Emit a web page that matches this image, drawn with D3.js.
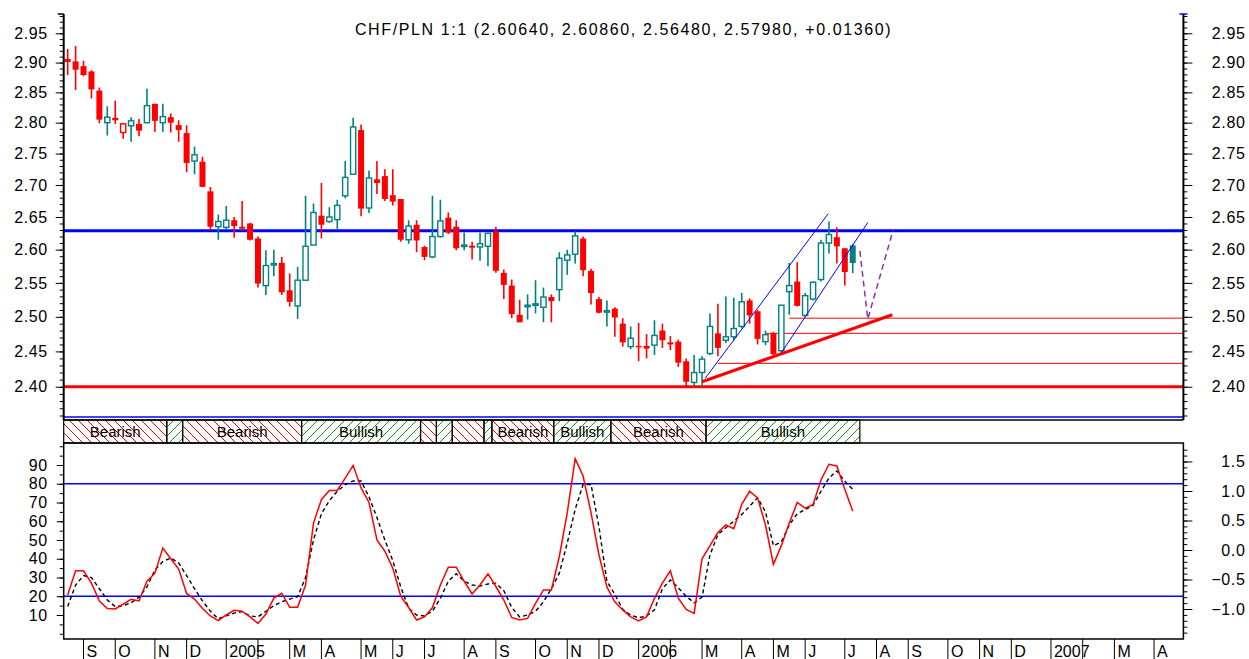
<!DOCTYPE html>
<html>
<head>
<meta charset="utf-8">
<script src="https://cdn.jsdelivr.net/npm/d3@7"></script>
<style>
body { margin: 0; background: #fff; }
svg { display: block; font-family: "Liberation Sans", Arial, sans-serif; }
</style>
</head>
<body>
<div id="chartContainer"></div>
<script>
// Weekly bars, first bar = week of Fri 20 Aug 2004
const startDate = new Date(2004, 7, 20);
const barCount = 141; // bars + empty future weeks on the axis

const opens = [2.906, 2.902, 2.894, 2.885, 2.853, 2.800, 2.808, 2.784, 2.795, 2.798,
  2.800, 2.831, 2.800, 2.809, 2.796, 2.783, 2.738, 2.737, 2.690, 2.635,
  2.634, 2.645, 2.635, 2.640, 2.617, 2.546, 2.577, 2.580, 2.539, 2.516,
  2.554, 2.607, 2.652, 2.643, 2.646, 2.683, 2.717, 2.788, 2.664, 2.709,
  2.714, 2.684, 2.678, 2.615, 2.638, 2.604, 2.589, 2.620, 2.649, 2.635,
  2.605, 2.606, 2.604, 2.605, 2.628, 2.565, 2.546, 2.503, 2.515, 2.517,
  2.514, 2.529, 2.540, 2.584, 2.593, 2.617, 2.568, 2.526, 2.508, 2.512,
  2.490, 2.457, 2.458, 2.458, 2.459, 2.480, 2.463, 2.464, 2.436, 2.406,
  2.420, 2.447, 2.476, 2.466, 2.471, 2.486, 2.524, 2.508, 2.464, 2.476,
  2.451, 2.537, 2.552, 2.502, 2.526, 2.555, 2.610, 2.619, 2.602, 2.6064];
const highs = [2.923, 2.928, 2.903, 2.887, 2.858, 2.827, 2.836, 2.800, 2.809, 2.806,
  2.856, 2.831, 2.831, 2.815, 2.804, 2.796, 2.761, 2.745, 2.697, 2.654,
  2.667, 2.650, 2.675, 2.641, 2.620, 2.599, 2.600, 2.589, 2.564, 2.574,
  2.683, 2.671, 2.703, 2.665, 2.677, 2.738, 2.808, 2.797, 2.723, 2.738,
  2.725, 2.725, 2.678, 2.645, 2.645, 2.606, 2.683, 2.677, 2.657, 2.645,
  2.626, 2.612, 2.626, 2.625, 2.635, 2.570, 2.555, 2.525, 2.533, 2.554,
  2.543, 2.533, 2.596, 2.600, 2.628, 2.620, 2.571, 2.529, 2.524, 2.514,
  2.498, 2.486, 2.491, 2.475, 2.495, 2.490, 2.472, 2.467, 2.440, 2.445,
  2.443, 2.505, 2.519, 2.530, 2.528, 2.535, 2.527, 2.510, 2.480, 2.478,
  2.517, 2.580, 2.581, 2.535, 2.552, 2.615, 2.643, 2.634, 2.602, 2.6086];
const lows = [2.879, 2.854, 2.877, 2.840, 2.799, 2.779, 2.798, 2.774, 2.769, 2.778,
  2.800, 2.785, 2.785, 2.784, 2.769, 2.720, 2.717, 2.697, 2.630, 2.615,
  2.630, 2.618, 2.629, 2.614, 2.543, 2.532, 2.560, 2.532, 2.515, 2.497,
  2.554, 2.607, 2.617, 2.641, 2.630, 2.679, 2.717, 2.651, 2.656, 2.686,
  2.675, 2.668, 2.612, 2.609, 2.596, 2.584, 2.587, 2.618, 2.624, 2.599,
  2.599, 2.585, 2.583, 2.575, 2.565, 2.526, 2.498, 2.492, 2.496, 2.505,
  2.492, 2.492, 2.523, 2.562, 2.579, 2.560, 2.518, 2.505, 2.486, 2.471,
  2.457, 2.453, 2.436, 2.440, 2.445, 2.455, 2.452, 2.428, 2.400, 2.401,
  2.400, 2.445, 2.443, 2.462, 2.466, 2.483, 2.490, 2.460, 2.459, 2.444,
  2.448, 2.503, 2.515, 2.500, 2.524, 2.552, 2.594, 2.579, 2.546, 2.5648];
const closes = [2.901, 2.888, 2.879, 2.855, 2.805, 2.809, 2.804, 2.798, 2.803, 2.787,
  2.828, 2.803, 2.810, 2.800, 2.788, 2.735, 2.748, 2.697, 2.635, 2.643,
  2.645, 2.636, 2.632, 2.615, 2.549, 2.576, 2.579, 2.536, 2.522, 2.554,
  2.605, 2.657, 2.638, 2.650, 2.668, 2.712, 2.793, 2.663, 2.711, 2.703,
  2.678, 2.674, 2.615, 2.636, 2.614, 2.589, 2.620, 2.644, 2.626, 2.602,
  2.607, 2.603, 2.609, 2.625, 2.568, 2.547, 2.504, 2.492, 2.517, 2.519,
  2.529, 2.523, 2.587, 2.592, 2.621, 2.569, 2.535, 2.506, 2.509, 2.499,
  2.463, 2.469, 2.456, 2.454, 2.473, 2.466, 2.460, 2.434, 2.407, 2.420,
  2.439, 2.486, 2.455, 2.471, 2.483, 2.522, 2.502, 2.468, 2.474, 2.446,
  2.517, 2.546, 2.516, 2.531, 2.551, 2.610, 2.623, 2.605, 2.5662, 2.5798];

// Stochastic oscillator (%K solid, %D dashed)
const stochK = [20.7, 33.6, 33.6, 27, 17.5, 13.5, 13.2, 15.8, 18.4, 17.5,
  28, 32.3, 45.7, 40, 34.5, 21.5, 18.5, 13.5, 9.5, 7,
  10, 12.5, 12, 9, 5.5, 10.5, 19, 21.6, 14.1, 14.1,
  26, 59, 71.6, 76.4, 76.4, 83, 89.8, 77.8, 70, 50,
  44, 35, 20, 14, 7.3, 9, 14, 26, 35.5, 35.5,
  28, 21.2, 26, 32, 25.2, 18, 8.7, 7.3, 8.2, 16.2,
  23.4, 23.4, 41.2, 64.5, 93.4, 84.1, 64.5, 42, 25, 17,
  12.7, 9, 6.8, 9, 18.9, 27, 33.6, 19, 13, 10.9,
  40, 47, 54, 58, 56, 69, 76, 72.5, 58, 37,
  47, 59, 70, 67, 69, 82, 90.4, 89.5, 77, 65.4];
const stochD = [14.5, 26, 31, 30, 24, 18, 14.5, 15, 16.5, 19.5,
  25, 34, 38.5, 40.4, 37.7, 31, 24, 17.5, 12, 8,
  9.5, 11, 11.8, 9.5, 9, 12, 15, 17.1, 18.5, 19.8,
  30, 50, 64, 71, 76, 79.5, 81.5, 81.5, 73, 62,
  50, 39, 25, 13.6, 10, 9.5, 12, 18.9, 28, 32,
  28, 26, 25.5, 26.5, 27, 23, 14, 9, 10, 12,
  17, 24, 32.3, 48.4, 66.4, 79.6, 79.6, 57, 28, 21,
  13, 10, 8.5, 9.5, 12.7, 24, 28.7, 24.5, 20, 16.5,
  19.5, 42, 53, 56.5, 60, 63.6, 68, 72.5, 65, 47,
  49, 58, 64, 66.2, 68.5, 76, 83, 86.8, 81.4, 77];

// Axis tick labels (February is left unlabelled, the year label sits there)
const priceTicks = [2.40, 2.45, 2.50, 2.55, 2.60, 2.65, 2.70, 2.75, 2.80, 2.85, 2.90, 2.95];
const stochTicks = [10, 20, 30, 40, 50, 60, 70, 80, 90];
const rightTicks = [-1.0, -0.5, 0.0, 0.5, 1.0, 1.5];
const monthInitials = ["", "", "M", "A", "M", "J", "J", "A", "S", "O", "N", "D"];
const stochLevels = [20, 80];

// Drawn studies: [bar index, price]
const resistance = 2.629;
const support = 2.40;
const supportStarts = [82, 88, 91];
const supportPrices = [2.433, 2.476, 2.498];
const trendLine = [[80, 2.407], [104, 2.503]];
const channelUpper = [[80.4, 2.412], [95.9, 2.655]];
const channelLower = [[90.0, 2.448], [100.9, 2.6415]];
const projection = [[99.9, 2.598], [100.9, 2.4967], [104.1, 2.630]];

// Trend band
const bandEdges = [-0.5, 12.5, 14.5, 29.5, 44.5, 46.5, 48.5, 52.5, 53.5, 61.3, 68.5, 80.5, 99.9];
const bandTypes = ["Bearish", "Bullish", "Bearish", "Bullish", "Bearish", "Bullish",
  "Bearish", "Bullish", "Bearish", "Bullish", "Bearish", "Bullish"];

const TEAL = "#008080", RED = "#ff0000", BLUE = "#0000ff";
const W = 1249, H = 659;
const plotLeft = 63.7, plotRight = 1183.4;
const mainTop = 14, mainBottom = 420;
const bandTop = 420, bandBottom = 443;
const lowTop = 443, lowBottom = 639;

const svg = d3.select("#chartContainer")
  .append("svg")
  .attr("width", W)
  .attr("height", H);

const x = d3.scaleLinear().domain([-0.5, 140.7]).range([plotLeft, plotRight]);
const y = d3.scaleLog().domain([2.3566, 2.9834]).range([418, 14]);
const yK = d3.scaleLinear().domain([0, 100]).range([633.75, 446.25]);
const yR = d3.scaleLinear().domain([-1.5, 1.8]).range([638.5, 443.8]);

const dates = d3.range(barCount).map(i => d3.timeDay.offset(startDate, 7 * i));

// patterns for the band
const defs = svg.append("defs");
defs.append("pattern").attr("id", "bear").attr("patternUnits", "userSpaceOnUse")
  .attr("width", 9).attr("height", 9)
  .append("path").attr("d", "M0,0 L9,9 M-1,8 L1,10 M8,-1 L10,1")
  .attr("stroke", RED).attr("stroke-width", 1);
defs.append("pattern").attr("id", "bull").attr("patternUnits", "userSpaceOnUse")
  .attr("width", 9).attr("height", 9)
  .append("path").attr("d", "M0,9 L9,0 M-1,1 L1,-1 M8,10 L10,8")
  .attr("stroke", "#1a961a").attr("stroke-width", 1);

const mainClip = defs.append("clipPath").attr("id", "mainClip");
mainClip.append("rect").attr("x", plotLeft).attr("y", mainTop)
  .attr("width", plotRight - plotLeft).attr("height", mainBottom - mainTop);

// ---------- main panel ----------
const main = svg.append("g").attr("clip-path", "url(#mainClip)");

// horizontal levels
main.append("line")
  .attr("x1", plotLeft).attr("x2", plotRight)
  .attr("y1", y(resistance)).attr("y2", y(resistance))
  .attr("stroke", BLUE).attr("stroke-width", 3);
main.append("line")
  .attr("x1", plotLeft).attr("x2", plotRight)
  .attr("y1", y(support)).attr("y2", y(support))
  .attr("stroke", RED).attr("stroke-width", 3);
main.append("line")
  .attr("x1", plotLeft).attr("x2", plotRight)
  .attr("y1", y.range()[0] - 1).attr("y2", y.range()[0] - 1)
  .attr("stroke", BLUE).attr("stroke-width", 1.5);

main.selectAll(".lvl")
  .data(supportPrices)
  .enter()
  .append("line")
  .attr("class", "lvl")
  .attr("x1", (d, i) => x(supportStarts[i]))
  .attr("x2", plotRight)
  .attr("y1", d => y(d)).attr("y2", d => y(d))
  .attr("stroke", RED).attr("stroke-width", 1);

// candles: colour by close vs previous close, hollow when close > open
const candles = main.selectAll(".candle")
  .data(d3.range(opens.length))
  .enter()
  .append("g")
  .attr("class", "candle");

const candleColor = i => (i > 0 && closes[i] >= closes[i - 1]) ? TEAL : RED;

candles.append("line")
  .attr("x1", i => x(i)).attr("x2", i => x(i))
  .attr("y1", i => y(highs[i])).attr("y2", i => y(lows[i]))
  .attr("stroke", candleColor).attr("stroke-width", 1.6);

candles.append("rect")
  .attr("x", i => closes[i] < opens[i] ? x(i) - 3 : x(i) - 2.6)
  .attr("width", i => closes[i] < opens[i] ? 6 : 5.2)
  .attr("y", i => y(Math.max(opens[i], closes[i])))
  .attr("height", i => Math.max(1.5, Math.abs(y(opens[i]) - y(closes[i]))))
  .attr("fill", i => closes[i] < opens[i] ? candleColor(i) : "#fff")
  .attr("stroke", i => closes[i] < opens[i] ? "none" : candleColor(i))
  .attr("stroke-width", 1.4);

// studies
const studyLine = d3.line().x(d => x(d[0])).y(d => y(d[1]));

main.append("path").datum(channelUpper).attr("d", studyLine)
  .attr("fill", "none").attr("stroke", BLUE).attr("stroke-width", 1);
main.append("path").datum(channelLower).attr("d", studyLine)
  .attr("fill", "none").attr("stroke", BLUE).attr("stroke-width", 1);
main.append("path").datum(trendLine).attr("d", studyLine)
  .attr("fill", "none").attr("stroke", RED).attr("stroke-width", 3);
main.append("path").datum(projection).attr("d", studyLine)
  .attr("fill", "none").attr("stroke", "#9030a8").attr("stroke-width", 1.5)
  .attr("stroke-dasharray", "6,4");

// main axes
const minorPrices = d3.range(236, 299).map(v => v / 100);

function styleAxis(g) {
  g.select(".domain").remove();
  g.selectAll("line").attr("stroke", "#000");
  g.selectAll("text").attr("fill", "#000").attr("font-size", 16)
    .attr("letter-spacing", 0.6)
    .attr("font-family", "'Liberation Sans', Arial, sans-serif");
}

svg.append("g").attr("transform", `translate(${plotLeft},0)`)
  .call(d3.axisLeft(y).tickValues(minorPrices).tickSize(4).tickFormat(""))
  .call(styleAxis);
svg.append("g").attr("transform", `translate(${plotLeft},0)`)
  .call(d3.axisLeft(y).tickValues(priceTicks).tickSize(8).tickPadding(8).tickFormat(d3.format(".2f")))
  .call(styleAxis);
svg.append("g").attr("transform", `translate(${plotRight},0)`)
  .call(d3.axisRight(y).tickValues(minorPrices).tickSize(4).tickFormat(""))
  .call(styleAxis);
svg.append("g").attr("transform", `translate(${plotRight},0)`)
  .call(d3.axisRight(y).tickValues(priceTicks).tickSize(9).tickFormat(d3.format(".2f")))
  .call(styleAxis)
  .selectAll("text").attr("text-anchor", "end").attr("x", 62);

// main frame
svg.append("line").attr("x1", plotLeft).attr("x2", plotLeft).attr("y1", mainTop).attr("y2", mainBottom)
  .attr("stroke", "#000").attr("stroke-width", 2);
svg.append("line").attr("x1", plotRight).attr("x2", plotRight).attr("y1", mainTop).attr("y2", mainBottom)
  .attr("stroke", "#000").attr("stroke-width", 2);
svg.append("line").attr("x1", plotLeft - 6).attr("x2", plotLeft).attr("y1", mainTop).attr("y2", mainTop)
  .attr("stroke", "#000").attr("stroke-width", 1.5);
svg.append("line").attr("x1", plotRight - 4).attr("x2", plotRight + 4).attr("y1", mainTop).attr("y2", mainTop)
  .attr("stroke", BLUE).attr("stroke-width", 1.5);

// title
svg.append("text")
  .attr("x", (plotLeft + plotRight) / 2)
  .attr("y", 35)
  .attr("text-anchor", "middle")
  .attr("font-size", 16)
  .attr("letter-spacing", 1.6)
  .attr("fill", "#000")
  .text("CHF/PLN 1:1 (2.60640, 2.60860, 2.56480, 2.57980, +0.01360)");

// ---------- trend band ----------
const band = svg.append("g");
const segs = bandTypes.map((t, i) => ({ type: t, a: bandEdges[i], b: bandEdges[i + 1] }));

band.selectAll("rect")
  .data(segs)
  .enter()
  .append("rect")
  .attr("x", d => x(d.a))
  .attr("width", d => x(d.b) - x(d.a))
  .attr("y", bandTop)
  .attr("height", bandBottom - bandTop)
  .attr("fill", d => d.type === "Bearish" ? "url(#bear)" : "url(#bull)")
  .attr("stroke", "#000")
  .attr("stroke-width", 1.2);

band.selectAll("text")
  .data(segs.filter(d => x(d.b) - x(d.a) > 45))
  .enter()
  .append("text")
  .attr("x", d => (x(d.a) + x(d.b)) / 2)
  .attr("y", bandTop + 17)
  .attr("text-anchor", "middle")
  .attr("font-size", 15)
  .attr("fill", "#000")
  .text(d => d.type);

svg.append("line").attr("x1", plotLeft).attr("x2", plotRight).attr("y1", mainBottom).attr("y2", mainBottom)
  .attr("stroke", "#000").attr("stroke-width", 1.5);

// ---------- stochastic panel ----------
const low = svg.append("g");

low.selectAll(".lvl")
  .data(stochLevels)
  .enter()
  .append("line")
  .attr("class", "lvl")
  .attr("x1", plotLeft).attr("x2", plotRight)
  .attr("y1", d => yK(d)).attr("y2", d => yK(d))
  .attr("stroke", BLUE).attr("stroke-width", 1.5);

const kLine = d3.line().x((d, i) => x(i)).y(d => yK(d));

low.append("path").datum(stochD).attr("d", kLine)
  .attr("fill", "none").attr("stroke", "#000").attr("stroke-width", 1.4)
  .attr("stroke-dasharray", "4,3");
low.append("path").datum(stochK).attr("d", kLine)
  .attr("fill", "none").attr("stroke", RED).attr("stroke-width", 1.5);

low.append("rect")
  .attr("x", plotLeft).attr("y", lowTop)
  .attr("width", plotRight - plotLeft).attr("height", lowBottom - lowTop)
  .attr("fill", "none").attr("stroke", "#000").attr("stroke-width", 1.5);

svg.append("g").attr("transform", `translate(${plotLeft},0)`)
  .call(d3.axisLeft(yK).tickValues(d3.range(0, 101, 5)).tickSize(4).tickFormat(""))
  .call(styleAxis);
svg.append("g").attr("transform", `translate(${plotLeft},0)`)
  .call(d3.axisLeft(yK).tickValues(stochTicks).tickSize(7).tickPadding(9).tickFormat(d3.format("d")))
  .call(styleAxis);
svg.append("g").attr("transform", `translate(${plotRight},0)`)
  .call(d3.axisRight(yR).tickValues(d3.range(-14, 18).map(v => v / 10)).tickSize(4).tickFormat(""))
  .call(styleAxis);
svg.append("g").attr("transform", `translate(${plotRight},0)`)
  .call(d3.axisRight(yR).tickValues(rightTicks).tickSize(9).tickFormat(d3.format(".1f")))
  .call(styleAxis)
  .selectAll("text").attr("text-anchor", "end").attr("x", 62);

// ---------- date axis ----------
const seps = d3.range(1, barCount).filter(i => dates[i].getMonth() !== dates[i - 1].getMonth() && x(i) < plotRight);
const dateAxis = svg.append("g");

dateAxis.selectAll("line")
  .data(seps)
  .enter()
  .append("line")
  .attr("x1", i => x(i)).attr("x2", i => x(i))
  .attr("y1", lowBottom).attr("y2", H)
  .attr("stroke", "#000").attr("stroke-width", 1);

dateAxis.selectAll("text")
  .data(seps.filter(i => dates[i].getMonth() !== 1))
  .enter()
  .append("text")
  .attr("x", i => x(i) + 3)
  .attr("y", 657)
  .attr("font-size", 16)
  .attr("fill", "#000")
  .text(i => dates[i].getMonth() === 0 ? String(dates[i].getFullYear()) : monthInitials[dates[i].getMonth()]);
</script>
</body>
</html>
